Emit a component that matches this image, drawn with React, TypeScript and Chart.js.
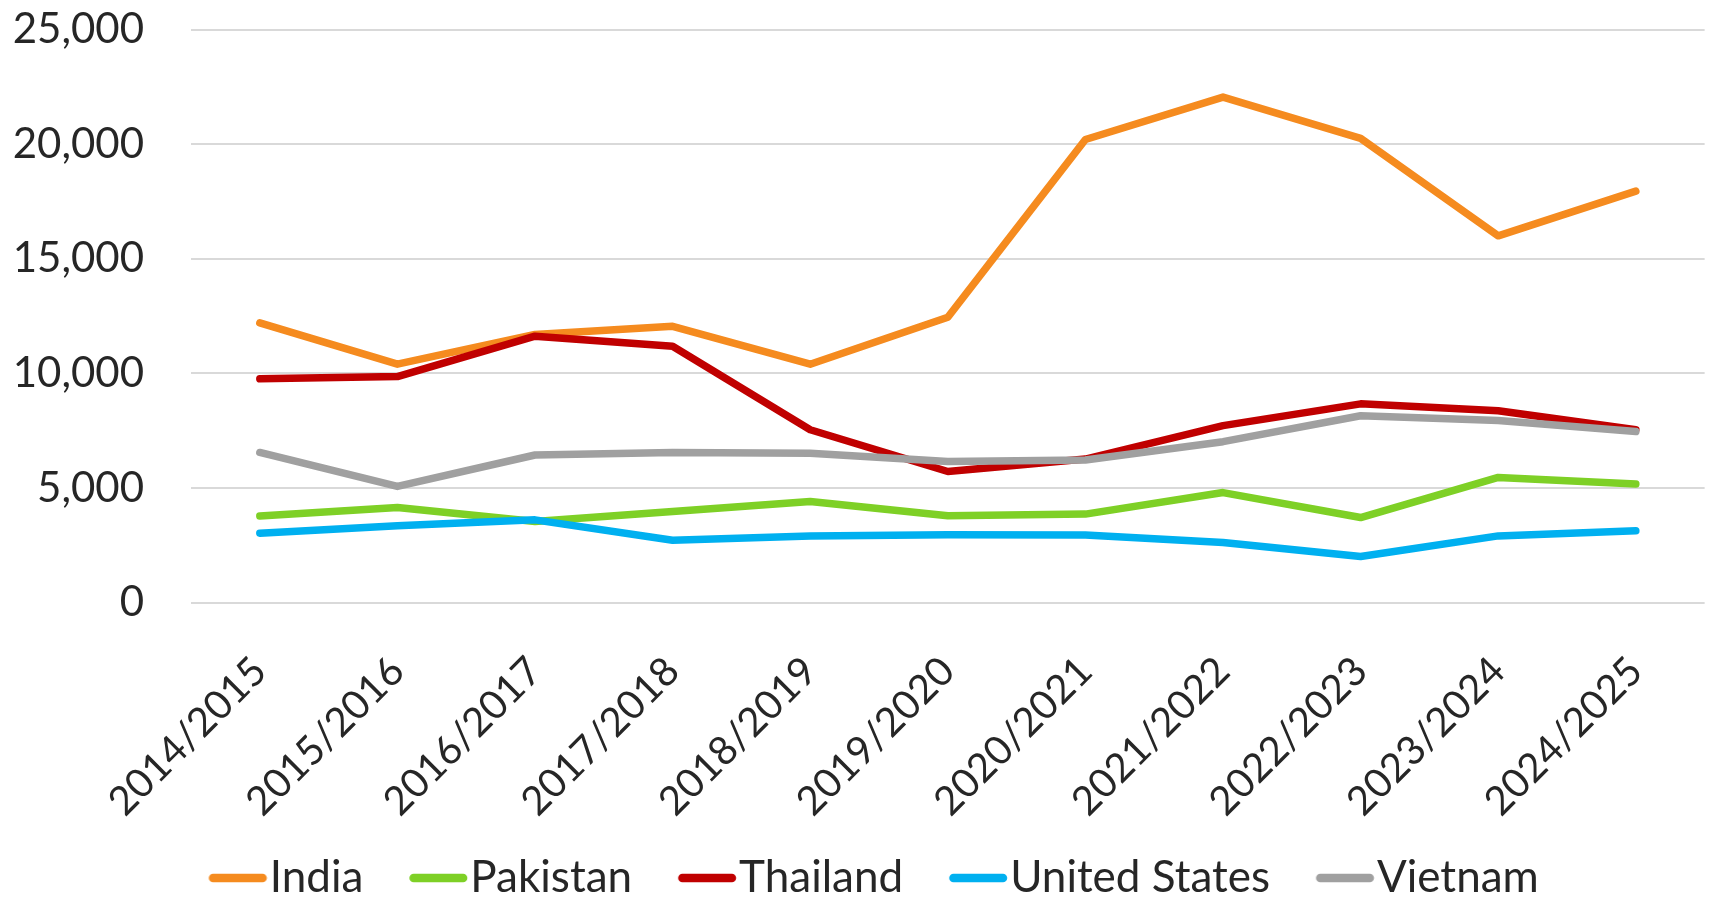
import React, { useEffect, useRef } from 'react';
import { Chart, registerables } from 'chart.js';

Chart.register(...registerables);

const categories = ['2014/2015', '2015/2016', '2016/2017', '2017/2018', '2018/2019', '2019/2020', '2020/2021', '2021/2022', '2022/2023', '2023/2024', '2024/2025'];
const seriesNames = ['India', 'Pakistan', 'Thailand', 'United States', 'Vietnam'];
const india = [12200, 10400, 11700, 12050, 10400, 12450, 20200, 22050, 20250, 16000, 17950];
const pakistan = [3780, 4150, 3540, 3970, 4410, 3790, 3860, 4800, 3710, 5460, 5170];
const thailand = [9760, 9860, 11620, 11180, 7540, 5720, 6260, 7720, 8670, 8370, 7540];
const unitedStates = [3030, 3350, 3610, 2720, 2910, 2960, 2950, 2620, 2010, 2910, 3130];
const vietnam = [6550, 5070, 6440, 6550, 6520, 6150, 6220, 7020, 8150, 7940, 7460];
const yTickValues = [0, 5000, 10000, 15000, 20000, 25000];

const colors = ['#F58B1F', '#7ED026', '#C00000', '#00B0F0', '#A0A0A0'];
const FONT = 'Lato';
const Y_FS = 42;
const X_FS = 40;
const LEG_FS = 44;

// legend marker geometry
const LEG_PAD = 8.5;
const MARK_OFFSET = 37.5; // item x -> marker start
const MARK_LEN = 58;
const MARK_GAP = 3; // marker end -> text
const BOX_W = MARK_OFFSET + MARK_LEN + MARK_GAP - LEG_FS / 2;

function makeMarker(color: string): HTMLCanvasElement {
  const c = document.createElement('canvas');
  const half = Math.ceil(MARK_OFFSET + MARK_LEN - BOX_W / 2);
  c.width = half * 2;
  c.height = 12;
  const ctx = c.getContext('2d')!;
  ctx.strokeStyle = color;
  ctx.lineWidth = 8.5;
  ctx.lineCap = 'round';
  const start = half - BOX_W / 2 + MARK_OFFSET;
  ctx.beginPath();
  ctx.moveTo(start + 4.25, 6);
  ctx.lineTo(start + MARK_LEN - 4.25, 6);
  ctx.stroke();
  return c;
}

export default function App() {
  const ref = useRef<HTMLCanvasElement>(null);
  useEffect(() => {
    const values = [india, pakistan, thailand, unitedStates, vietnam];
    const chart = new Chart(ref.current!, {
      type: 'line',
      data: {
        labels: categories,
        datasets: values.map((v, i) => ({
          label: seriesNames[i],
          data: v,
          borderColor: colors[i],
          backgroundColor: colors[i],
          borderWidth: 7.5,
          borderCapStyle: 'round' as const,
          borderJoinStyle: 'round' as const,
          pointRadius: 0,
          pointHoverRadius: 0,
          pointStyle: makeMarker(colors[i]),
          tension: 0,
          fill: false,
          order: values.length - 1 - i,
        })),
      },
      options: {
        animation: false,
        responsive: true,
        maintainAspectRatio: false,
        layout: { padding: { top: 29.5, right: 5, left: 0, bottom: -12 } },
        plugins: {
          tooltip: { enabled: false },
          legend: {
            position: 'bottom',
            labels: {
              usePointStyle: true,
              pointStyleWidth: BOX_W,
              padding: LEG_PAD,
              color: '#262626',
              font: { family: FONT, size: LEG_FS },
              sort: (a: any, b: any) => a.datasetIndex - b.datasetIndex,
            },
          },
        },
        scales: {
          x: {
            offset: true,
            grid: { display: false, drawTicks: false },
            border: { display: false },
            ticks: {
              autoSkip: false,
              minRotation: 45,
              maxRotation: 45,
              padding: 45,
              color: '#262626',
              font: { family: FONT, size: X_FS },
            },
            afterFit: (s: any) => { s.height = 244.9; },
          },
          y: {
            min: 0,
            max: 25000,
            afterBuildTicks: (s: any) => { s.ticks = yTickValues.map((v) => ({ value: v })); },
            grid: { color: '#D9D9D9', lineWidth: 2, drawTicks: false },
            border: { display: false },
            ticks: {
              padding: 47,
              color: '#262626',
              font: { family: FONT, size: Y_FS },
              callback: (v: any) => Number(v).toLocaleString('en-US'),
            },
            afterFit: (s: any) => { s.width = 191; s.paddingTop = 0; s.paddingBottom = 0; },
          },
        },
      },
    });
    return () => chart.destroy();
  }, []);
  return (
    <div style={{ position: 'absolute', left: 0, top: 0, width: 1715, height: 898 }}>
      <canvas ref={ref} />
    </div>
  );
}
